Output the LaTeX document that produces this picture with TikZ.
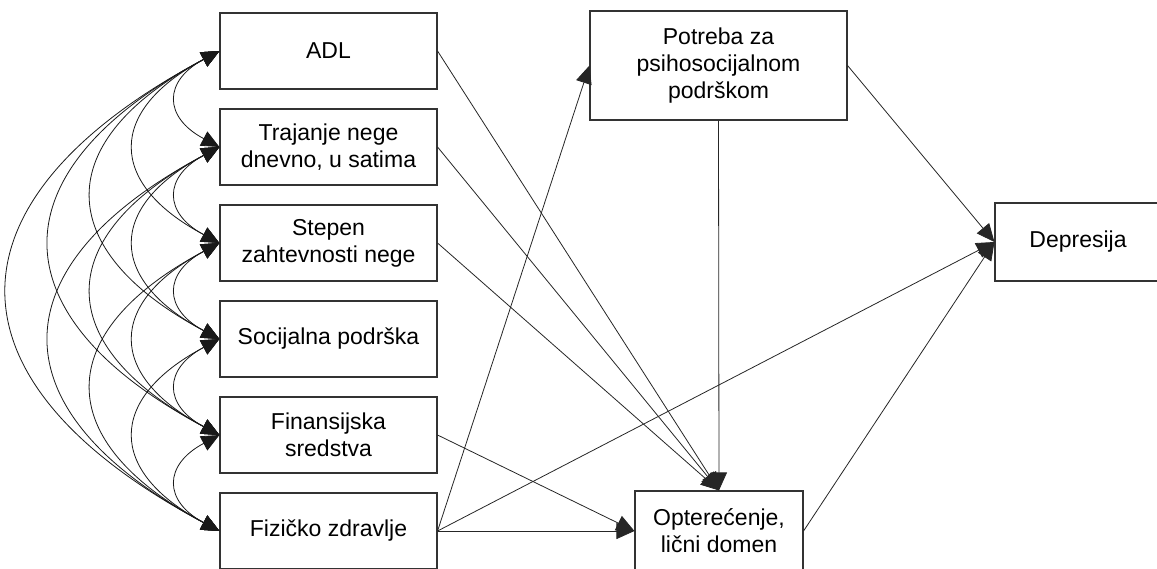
\documentclass[tikz,border=0pt]{standalone}
\usepackage{fontspec}
\setmainfont{Liberation Sans}
\usetikzlibrary{arrows.meta}
\begin{document}
\begin{tikzpicture}[x=1pt,y=-1pt,
  box/.style={draw=black!80,line width=1.1pt,fill=white,align=center,inner sep=0pt,
    font=\fontsize{23}{27}\selectfont},
  lbox/.style={box,minimum width=217pt,minimum height=76pt},
  conn/.style={draw=black!85,line width=0.8pt,-{Triangle[length=18pt,width=16pt]}},
  cov/.style={draw=black!90,line width=0.8pt,{Triangle[length=18pt,width=16pt]}-{Triangle[length=18pt,width=16pt]},bend right=62,looseness=1.7}]
\useasboundingbox (0,0) rectangle (1157,568);
\node[lbox] (adl) at (328.5,51) {ADL};
\node[lbox] (traj) at (328.5,147) {Trajanje nege\\dnevno, u satima};
\node[lbox] (step) at (328.5,243) {Stepen\\zahtevnosti nege};
\node[lbox] (soc) at (328.5,339) {Socijalna podrška};
\node[lbox] (fin) at (328.5,435) {Finansijska\\sredstva};
\node[lbox] (fiz) at (328.5,531) {Fizičko zdravlje};
\node[box,minimum width=257pt,minimum height=109pt] (pot) at (718.5,65.5) {Potreba za\\psihosocijalnom\\podrškom};
\node[box,minimum width=166pt,minimum height=78pt] (dep) at (1078,242) {Depresija};
\node[box,minimum width=168pt,minimum height=80pt] (opt) at (719,531) {Opterećenje,\\lični domen};
% covariances
\foreach \a/\b in {adl/traj,adl/step,adl/soc,adl/fin,adl/fiz,
                   traj/step,traj/soc,traj/fin,traj/fiz,
                   step/soc,step/fin,step/fiz,
                   soc/fin,soc/fiz,fin/fiz}
  \draw[cov] (\a.west) to (\b.west);
% paths
\draw[conn] (adl.east) -- (opt.north);
\draw[conn] (traj.east) -- (opt.north);
\draw[conn] (step.east) -- (opt.north);
\draw[conn] (pot.south) -- (opt.north);
\draw[conn] (fin.east) -- (opt.west);
\draw[conn] (fiz.east) -- (opt.west);
\draw[conn] (fiz.east) -- (pot.west);
\draw[conn] (fiz.east) -- (dep.west);
\draw[conn] (pot.east) -- (dep.west);
\draw[conn] (opt.east) -- (dep.west);
\end{tikzpicture}
\end{document}
